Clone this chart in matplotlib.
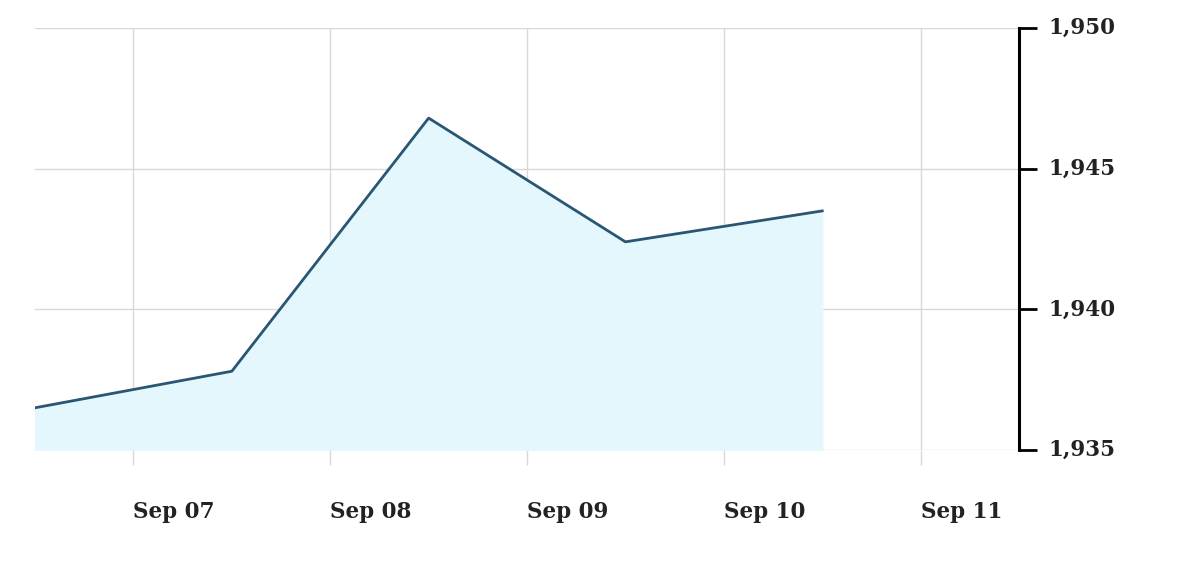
import matplotlib
matplotlib.use("Agg")
import matplotlib.pyplot as plt
import matplotlib.dates as mdates
from datetime import datetime

# price readings, one per day at noon
dates = [datetime(2023, 9, 6, 12), datetime(2023, 9, 7, 12), datetime(2023, 9, 8, 12),
         datetime(2023, 9, 9, 12), datetime(2023, 9, 10, 12)]
values = [1936.5, 1937.8, 1946.8, 1942.4, 1943.5]

tick_days = [datetime(2023, 9, d) for d in range(7, 12)]
tick_labels = ["Sep 07", "Sep 08", "Sep 09", "Sep 10", "Sep 11"]
y_ticks = [1935, 1940, 1945, 1950]
y_labels = ["1,935", "1,940", "1,945", "1,950"]

fig = plt.figure(figsize=(12, 5.85), dpi=100)
ax = fig.add_axes([0.0292, 0.2308, 0.8200, 0.7212])

ax.fill_between(dates, values, 1935, color="#e4f7fc", zorder=1)
ax.plot(dates, values, color="#2a5674", linewidth=2, zorder=3)

ax.set_xlim(datetime(2023, 9, 6, 12), datetime(2023, 9, 11, 12))
ax.set_ylim(1935, 1950)

ax.set_xticks(tick_days)
ax.set_xticklabels(tick_labels, family="DejaVu Serif", fontweight="bold",
                   fontsize=15.5, color="#222222", ha="left")
ax.tick_params(axis="x", length=11, color="#d8d8d8", width=1, pad=26)

ax.yaxis.tick_right()
ax.set_yticks(y_ticks)
ax.set_yticklabels(y_labels, family="DejaVu Serif", fontweight="bold",
                   fontsize=15.5, color="#222222", va="center")
ax.tick_params(axis="y", length=13, width=2, color="black", pad=8)

ax.grid(True, color="#d8d8d8", linewidth=1, zorder=0)
ax.set_axisbelow(True)

for side in ["top", "left", "bottom"]:
    ax.spines[side].set_visible(False)
ax.spines["right"].set_linewidth(2.2)
ax.spines["right"].set_color("black")

fig.savefig("out.png", dpi=100)
